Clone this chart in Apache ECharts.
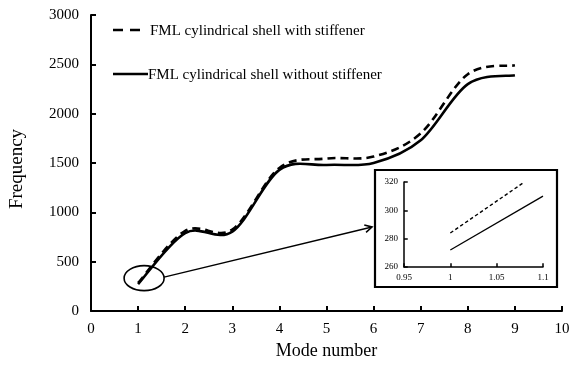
<!DOCTYPE html>
<html>
<head>
<meta charset="utf-8">
<script src="https://cdn.jsdelivr.net/npm/echarts@6/dist/echarts.min.js"></script>
<style>
  html, body { margin: 0; padding: 0; background: #fff; }
  #chart { width: 573px; height: 373px; }
</style>
</head>
<body>
<div id="chart"></div>
<script>
// Natural frequencies for modes 1-9
const modes = [1, 2, 3, 4, 5, 6, 7, 8, 9];
const withStiffener = [284, 812, 825, 1450, 1545, 1565, 1800, 2400, 2490];
const withoutStiffener = [272, 790, 805, 1430, 1480, 1500, 1730, 2300, 2390];

// Close-up of mode 1 (inset)
const insetWithX = [1, 1.08];
const insetWith = [284, 320];
const insetWithoutX = [1, 1.1];
const insetWithout = [272, 310];

const nameWith = 'FML cylindrical shell with stiffener';
const nameWithout = 'FML cylindrical shell without stiffener';

const FONT = 'Liberation Serif';
const pair = (xs, ys) => xs.map((x, i) => [x, ys[i]]);
const plain = v => String(Math.round(v * 1000) / 1000);

const chart = echarts.init(document.getElementById('chart'), null, { renderer: 'canvas' });

// Smoothed curve (Catmull-Rom style Bezier) through every data point,
// positioned with the chart's own coordinate system.
function smoothCurve(values, dash) {
  return function (params, api) {
    if (params.dataIndex !== 0) return null;
    const pts = modes.map((m, i) => api.coord([m, values[i]]));
    const n = pts.length;
    const P = i => pts[Math.max(0, Math.min(n - 1, i))];
    let d = 'M' + pts[0][0] + ' ' + pts[0][1];
    for (let i = 0; i < n - 1; i++) {
      const p0 = P(i - 1), p1 = P(i), p2 = P(i + 1), p3 = P(i + 2);
      const c1 = [p1[0] + (p2[0] - p0[0]) / 6, p1[1] + (p2[1] - p0[1]) / 6];
      const c2 = [p2[0] - (p3[0] - p1[0]) / 6, p2[1] - (p3[1] - p1[1]) / 6];
      d += ' C' + c1.join(' ') + ' ' + c2.join(' ') + ' ' + p2.join(' ');
    }
    return {
      type: 'path',
      shape: { pathData: d },
      style: { fill: 'none', stroke: '#000', lineWidth: 2.6, lineDash: dash }
    };
  };
}

const axisStyle = (lw, fs, margin) => ({
  axisLine: { show: true, lineStyle: { color: '#000', width: lw } },
  axisTick: { show: true, inside: true, length: lw * 2.5, lineStyle: { color: '#000', width: lw } },
  axisLabel: { color: '#000', fontFamily: FONT, fontSize: fs, margin: margin, formatter: plain },
  splitLine: { show: false }
});

const legendText = { fontFamily: FONT, fontSize: 15, color: '#000' };

chart.setOption({
  animation: false,
  backgroundColor: '#fff',
  grid: [
    { left: 90, right: 11, top: 15, bottom: 62 },
    { left: 404, right: 30, top: 182, bottom: 106 }
  ],
  // Legend entries; their line samples are stroked below as graphics
  legend: [
    {
      orient: 'vertical', left: 108, top: 19,
      itemWidth: 27, itemHeight: 2.6, itemStyle: { opacity: 0 },
      textStyle: Object.assign({ padding: [0, 0, 0, 5] }, legendText),
      data: [{ name: nameWith, icon: 'rect' }]
    },
    {
      orient: 'vertical', left: 108, top: 63,
      itemWidth: 35, itemHeight: 2.6, itemStyle: { opacity: 0 },
      textStyle: Object.assign({ padding: [0, 0, 0, -5] }, legendText),
      data: [{ name: nameWithout, icon: 'rect' }]
    }
  ],
  xAxis: [
    Object.assign({
      type: 'value', gridIndex: 0, min: 0, max: 10, interval: 1,
      name: 'Mode number', nameLocation: 'middle', nameGap: 28,
      nameTextStyle: { fontFamily: FONT, fontSize: 18, color: '#000' }
    }, axisStyle(2, 15, 11)),
    Object.assign({
      type: 'value', gridIndex: 1, min: 0.95, max: 1.1, interval: 0.05
    }, axisStyle(1.5, 9, 6))
  ],
  yAxis: [
    Object.assign({
      type: 'value', gridIndex: 0, min: 0, max: 3000, interval: 500,
      name: 'Frequency', nameLocation: 'middle', nameGap: 64, nameRotate: 90,
      nameTextStyle: { fontFamily: FONT, fontSize: 19, color: '#000', padding: [0, 12, 0, 0] }
    }, axisStyle(2, 15, 12)),
    Object.assign({
      type: 'value', gridIndex: 1, min: 260, max: 320, interval: 20
    }, axisStyle(1.5, 9, 6))
  ],
  series: [
    {
      name: nameWith, type: 'custom', xAxisIndex: 0, yAxisIndex: 0,
      data: pair(modes, withStiffener), renderItem: smoothCurve(withStiffener, [8, 5]),
      itemStyle: { color: '#000' }, z: 3
    },
    {
      name: nameWithout, type: 'custom', xAxisIndex: 0, yAxisIndex: 0,
      data: pair(modes, withoutStiffener), renderItem: smoothCurve(withoutStiffener, null),
      itemStyle: { color: '#000' }, z: 4
    },
    {
      type: 'line', xAxisIndex: 1, yAxisIndex: 1,
      data: pair(insetWithX, insetWith), showSymbol: false, symbol: 'none',
      lineStyle: { color: '#000', width: 1.4, type: [3.5, 2.5] }
    },
    {
      type: 'line', xAxisIndex: 1, yAxisIndex: 1,
      data: pair(insetWithoutX, insetWithout), showSymbol: false, symbol: 'none',
      lineStyle: { color: '#000', width: 1.3 }
    }
  ]
});

// Annotation: ellipse around mode 1, arrow to the framed close-up
const focus = chart.convertToPixel({ gridIndex: 0 }, [modes[0], withoutStiffener[0]]);
const insetTL = chart.convertToPixel({ gridIndex: 1 }, [0.95, 320]);
const insetBR = chart.convertToPixel({ gridIndex: 1 }, [1.1, 260]);
const box = {
  x: insetTL[0] - 29, y: insetTL[1] - 12,
  width: insetBR[0] - insetTL[0] + 43, height: insetBR[1] - insetTL[1] + 32
};
const ell = { cx: focus[0] + 6, cy: focus[1] - 6, rx: 20, ry: 12.5 };
const tail = [ell.cx + ell.rx, ell.cy - 1];
const head = [box.x - 3, box.y + 57];
const ang = Math.atan2(head[1] - tail[1], head[0] - tail[0]);
const hl = 8, ha = 0.5;
const wing = s => [head[0] - hl * Math.cos(ang + s * ha), head[1] - hl * Math.sin(ang + s * ha)];

chart.setOption({
  graphic: [
    // legend line samples
    {
      type: 'line', shape: { x1: 113, y1: 30, x2: 140, y2: 30 },
      style: { stroke: '#000', lineWidth: 2.6, lineDash: [10, 7] }
    },
    {
      type: 'line', shape: { x1: 113, y1: 74, x2: 148, y2: 74 },
      style: { stroke: '#000', lineWidth: 2.6 }
    },
    {
      type: 'rect', shape: box, z: 1,
      style: { fill: 'none', stroke: '#000', lineWidth: 2.2 }
    },
    {
      type: 'ellipse', shape: ell, z: 10,
      style: { fill: 'none', stroke: '#000', lineWidth: 1.6 }
    },
    {
      type: 'line', shape: { x1: tail[0], y1: tail[1], x2: head[0], y2: head[1] }, z: 10,
      style: { stroke: '#000', lineWidth: 1.3 }
    },
    {
      type: 'polyline', shape: { points: [wing(1), head, wing(-1)] }, z: 10,
      style: { fill: 'none', stroke: '#000', lineWidth: 1.6 }
    }
  ]
});
</script>
</body>
</html>
